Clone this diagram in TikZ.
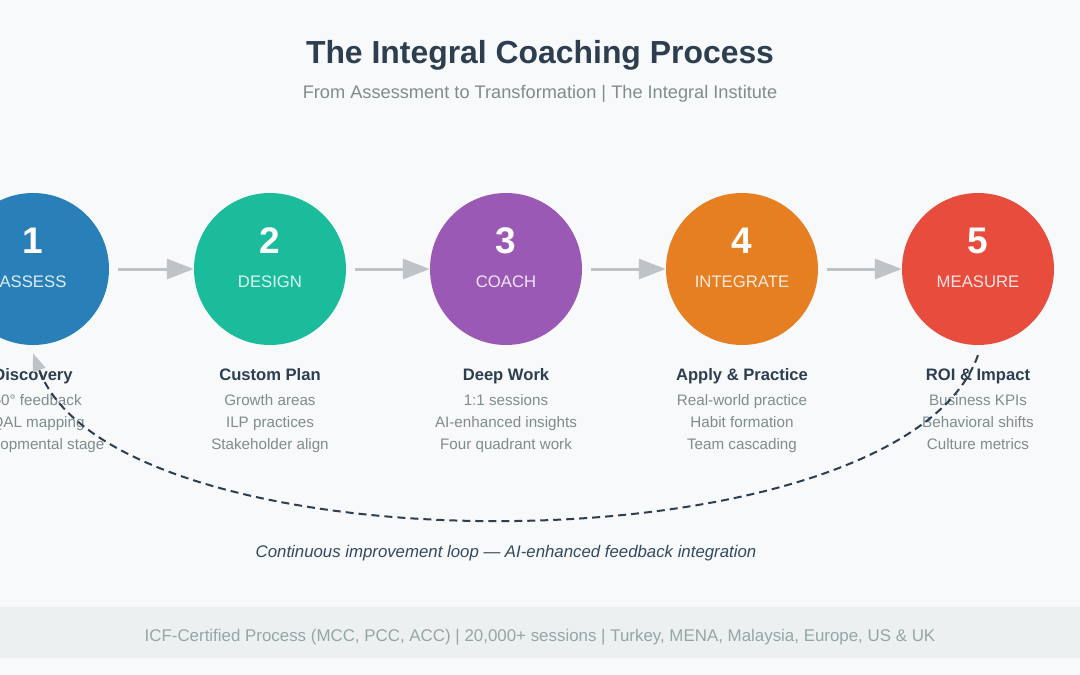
\documentclass[tikz,border=0pt]{standalone}
\usepackage{fontspec}
\setmainfont{Liberation Sans}
\usetikzlibrary{arrows.meta,calc}
\definecolor{bgc}{HTML}{F8F9FA}
\definecolor{bandc}{HTML}{ECF0F1}
\definecolor{darkc}{HTML}{2C3E50}
\definecolor{midc}{HTML}{34495E}
\definecolor{greyc}{HTML}{7F8C8D}
\definecolor{lightg}{HTML}{95A5A6}
\definecolor{arrc}{HTML}{BDC3C7}
\definecolor{cA}{HTML}{2980B9}
\definecolor{cB}{HTML}{1ABC9C}
\definecolor{cC}{HTML}{9B59B6}
\definecolor{cD}{HTML}{E67E22}
\definecolor{cE}{HTML}{E74C3C}
\tikzset{
  stage/.style={circle, minimum size=152pt, inner sep=0pt, draw=none},
  numtxt/.style={anchor=base, text=white, font=\fontsize{37}{40}\selectfont\bfseries},
  labtxt/.style={anchor=base, text=white, text opacity=0.85, font=\fontsize{16.7}{19}\selectfont},
  headtxt/.style={anchor=base, text=darkc, font=\fontsize{16.6}{19}\selectfont\bfseries},
  itemtxt/.style={anchor=base, text=greyc, font=\fontsize{15.2}{17}\selectfont},
  flow/.style={draw=arrc, line width=3pt, -{Triangle[length=27pt,width=20pt]}, shorten <=9pt},
  loop/.style={draw=darkc, line width=2pt, dash pattern=on 8pt off 5pt, -{Triangle[length=18pt,width=13pt,color=arrc]}}
}
\begin{document}
\begin{tikzpicture}[x=1pt,y=-1pt]
\fill[bgc] (0,0) rectangle (1080,675);
\useasboundingbox (0,0) rectangle (1080,675);
\fill[bandc] (0,607) rectangle (1080,658);

\node[anchor=base, text=darkc, font=\fontsize{31.9}{34}\selectfont\bfseries] (title) at (540,63) {The Integral Coaching Process};
\node[anchor=base, text=greyc, font=\fontsize{18.2}{20}\selectfont] (subtitle) at (540,98) {From Assessment to Transformation | The Integral Institute};

\node[stage, fill=cA] (c1) at (33,269) {};
\node[stage, fill=cB] (c2) at (270,269) {};
\node[stage, fill=cC] (c3) at (506,269) {};
\node[stage, fill=cD] (c4) at (742,269) {};
\node[stage, fill=cE] (c5) at (978,269) {};

\node[numtxt] (n1) at (33,253) {1};
\node[numtxt] (n2) at (270,253) {2};
\node[numtxt] (n3) at (506,253) {3};
\node[numtxt] (n4) at (742,253) {4};
\node[numtxt] (n5) at (978,253) {5};

\node[labtxt] (l1) at (33,287) {ASSESS};
\node[labtxt] (l2) at (270,287) {DESIGN};
\node[labtxt] (l3) at (506,287) {COACH};
\node[labtxt] (l4) at (742,287) {INTEGRATE};
\node[labtxt] (l5) at (978,287) {MEASURE};

\draw[flow] (c1) -- (c2);
\draw[flow] (c2) -- (c3);
\draw[flow] (c3) -- (c4);
\draw[flow] (c4) -- (c5);

\node[headtxt] (h1) at (33,380) {Discovery};
\node[itemtxt] (a1) at (33,405) {360° feedback};
\node[itemtxt] (b1) at (33,427) {AQAL mapping};
\node[itemtxt] (d1) at (33,449) {Developmental stage};

\node[headtxt] (h2) at (270,380) {Custom Plan};
\node[itemtxt] (a2) at (270,405) {Growth areas};
\node[itemtxt] (b2) at (270,427) {ILP practices};
\node[itemtxt] (d2) at (270,449) {Stakeholder align};

\node[headtxt] (h3) at (506,380) {Deep Work};
\node[itemtxt] (a3) at (506,405) {1:1 sessions};
\node[itemtxt] (b3) at (506,427) {AI-enhanced insights};
\node[itemtxt] (d3) at (506,449) {Four quadrant work};

\node[headtxt] (h4) at (742,380) {Apply \& Practice};
\node[itemtxt] (a4) at (742,405) {Real-world practice};
\node[itemtxt] (b4) at (742,427) {Habit formation};
\node[itemtxt] (d4) at (742,449) {Team cascading};

\node[headtxt] (h5) at (978,380) {ROI \& Impact};
\node[itemtxt] (a5) at (978,405) {Business KPIs};
\node[itemtxt] (b5) at (978,427) {Behavioral shifts};
\node[itemtxt] (d5) at (978,449) {Culture metrics};

\draw[loop] ([yshift=-10pt]c5.south) .. controls (900,574) and (115,574) .. ([yshift=-8pt]c1.south);

\node[anchor=base, text=midc, font=\fontsize{16.8}{18}\selectfont\itshape] (loopnote) at (506,557) {Continuous improvement loop — AI-enhanced feedback integration};
\node[anchor=base, text=lightg, font=\fontsize{16.9}{18}\selectfont] (footer) at (540,641) {ICF-Certified Process (MCC, PCC, ACC) | 20,000+ sessions | Turkey, MENA, Malaysia, Europe, US \& UK};
\end{tikzpicture}
\end{document}
